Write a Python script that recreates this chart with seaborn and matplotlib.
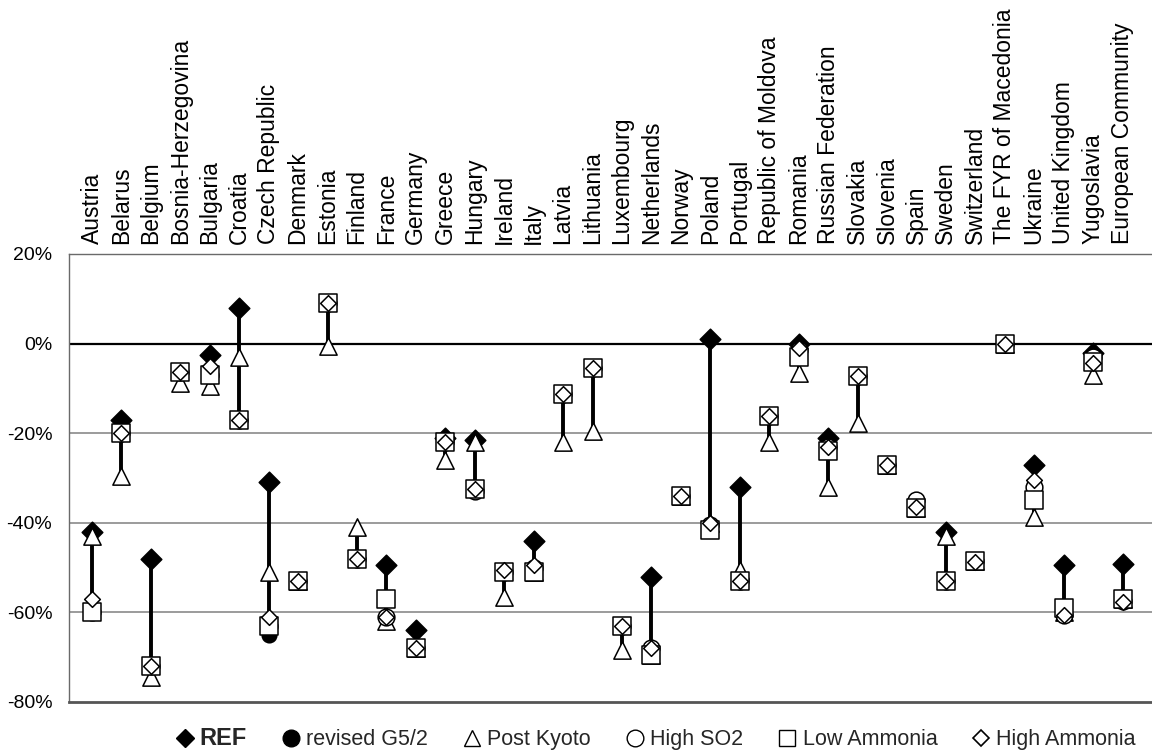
import numpy as np
import pandas as pd
import matplotlib
matplotlib.use("Agg")
import matplotlib.pyplot as plt
import seaborn as sns
from matplotlib.lines import Line2D
from matplotlib.ticker import FuncFormatter

# Change in emissions relative to the base year, per country and scenario (%)
countries = [
    "Austria", "Belarus", "Belgium", "Bosnia-Herzegovina", "Bulgaria", "Croatia",
    "Czech Republic", "Denmark", "Estonia", "Finland", "France", "Germany",
    "Greece", "Hungary", "Ireland", "Italy", "Latvia", "Lithuania",
    "Luxembourg", "Netherlands", "Norway", "Poland", "Portugal",
    "Republic of Moldova", "Romania", "Russian Federation", "Slovakia",
    "Slovenia", "Spain", "Sweden", "Switzerland", "The FYR of Macedonia",
    "Ukraine", "United Kingdom", "Yugoslavia", "European Community",
]
nan = np.nan
ref = [-42, -17, -48, nan, -2.5, 8, -31, nan, nan, nan, -49.5, -64,
       -21, -21.5, nan, -44, nan, nan, nan, -52, nan, 1, -32,
       nan, 0, -21, nan, nan, nan, -42, nan, nan,
       -27, -49.5, -2, -49.3]
revised_g52 = [-60, -20, -72, -6.3, -7, -17, -65, -53, 9, -48, -61, -68,
               -22, -33, -51, -51, -11.2, -5.4, -63, -69, -34, -41, -53,
               -16.2, -2, -23.5, -7.3, -27, -36.5, -53, -48.5, 0,
               -35, -60, -4, -57]
post_kyoto = [-43, -29.5, -74.5, -8.8, -9.5, -3, -51, -53, -0.5, -41, -62, -68,
              -26, -22, -56.5, -51, -22, -19.6, -68.3, -69.5, -34, -40, -50.5,
              -22, -6.5, -32, -17.7, -27, -36.6, -43, -48.5, 0,
              -38.6, -60, -7, -57]
high_so2 = [-60, -20, -72, -6.3, -7, -17, -63, -53, 9, -48, -61, -68,
            -22, -33, -51, -50, -11.2, -5.4, -63, -68, -34, -40.5, -53,
            -16.2, -1.5, -23, -7.3, -27, -35, -53, -48.5, 0,
            -32, -60.5, -3, -57.5]
low_ammonia = [-60, -20, -72, -6.3, -7, -17, -63, -53, 9, -48, -57, -68,
               -22, -32.5, -51, -51, -11.2, -5.4, -63, -69.5, -34, -41.5, -53,
               -16.2, -3, -24, -7.3, -27, -36.6, -53, -48.5, 0,
               -35, -59, -4, -57]
high_ammonia = [-57, -20, -72, -6.3, -5, -17, -61, -53, 9, -48, -61, -68,
                -22, -32.5, -50.5, -49.5, -11.2, -5.4, -63, -68, -34, -40, -53,
                -16.2, -1, -23, -7.3, -27, -36.4, -53, -48.7, 0,
                -30.5, -60.5, -4.3, -57.7]
y_ticks = [-80, -60, -40, -20, 0, 20]

scenario_names = ["REF", "revised G5/2", "Post Kyoto", "High SO2",
                  "Low Ammonia", "High Ammonia"]
df = pd.DataFrame({
    "country": countries,
    "REF": ref,
    "revised G5/2": revised_g52,
    "Post Kyoto": post_kyoto,
    "High SO2": high_so2,
    "Low Ammonia": low_ammonia,
    "High Ammonia": high_ammonia,
})
df["pos"] = np.arange(len(df))
long = df.melt(id_vars=["country", "pos"], value_vars=scenario_names,
               var_name="scenario", value_name="change").dropna()

# marker, area, face colour, edge colour
styles = {
    "REF":          ("D", 110, "black", "black"),
    "revised G5/2": ("o", 110, "black", "black"),
    "Post Kyoto":   ("^", 155, "white", "black"),
    "High SO2":     ("o", 145, "white", "black"),
    "Low Ammonia":  ("s", 155, "white", "black"),
    "High Ammonia": ("D", 64, "white", "black"),
}

sns.set_theme(style="white")
plt.rcParams["font.family"] = ["Liberation Sans", "DejaVu Sans"]

fig = plt.figure(figsize=(11.52, 7.54), dpi=100)
ax = fig.add_axes([69 / 1152, 52 / 754, (1152 - 69) / 1152, 448 / 754])

# horizontal reference lines
for yv in [-60, -40, -20]:
    ax.axhline(yv, color="#8a8a8a", lw=1.2, zorder=1)
ax.axhline(0, color="black", lw=1.6, zorder=1)

# range bar spanning all scenarios of each country
vals = df[scenario_names]
ax.vlines(df["pos"], vals.min(axis=1), vals.max(axis=1),
          color="black", lw=2.8, zorder=2)

for z, name in enumerate(scenario_names):
    mk, size, face, edge = styles[name]
    sns.scatterplot(data=long[long["scenario"] == name], x="pos", y="change",
                    marker=mk, s=size, color=face, edgecolor=edge,
                    linewidth=1.1, zorder=3 + z, legend=False, ax=ax)

ax.set_xlim(-0.78, 36.0)
ax.set_ylim(-80, 20)
ax.set_yticks(y_ticks)
ax.yaxis.set_major_formatter(FuncFormatter(lambda v, p: f"{v:.0f}%"))
ax.tick_params(axis="y", length=0, pad=12, labelsize=14, labelcolor="black")
ax.set_xticks(df["pos"])
ax.set_xticklabels(countries, rotation=90, fontsize=16.5, color="black")
ax.xaxis.tick_top()
ax.tick_params(axis="x", length=0, pad=7)
ax.set_xlabel("")
ax.set_ylabel("")

for side in ["top", "left"]:
    ax.spines[side].set_color("#6a6a6a")
    ax.spines[side].set_linewidth(1.0)
ax.spines["bottom"].set_color("#555555")
ax.spines["bottom"].set_linewidth(2.0)
ax.spines["right"].set_visible(False)

handles = [
    Line2D([], [], ls="none", marker="D", markersize=9.5, color="black"),
    Line2D([], [], ls="none", marker="o", markersize=12, color="black"),
    Line2D([], [], ls="none", marker="^", markersize=12, markerfacecolor="white",
           markeredgecolor="black", markeredgewidth=1.0),
    Line2D([], [], ls="none", marker="o", markersize=12, markerfacecolor="white",
           markeredgecolor="black", markeredgewidth=1.0),
    Line2D([], [], ls="none", marker="s", markersize=12, markerfacecolor="white",
           markeredgecolor="black", markeredgewidth=1.0),
    Line2D([], [], ls="none", marker="D", markersize=8.5, markerfacecolor="white",
           markeredgecolor="black", markeredgewidth=1.2),
]
leg = fig.legend(handles, scenario_names, loc="center",
                 bbox_to_anchor=(0.5695, 0.02), ncol=6, frameon=False,
                 fontsize=15.5, handlelength=0.8, handletextpad=0.3,
                 columnspacing=1.65)
leg.get_texts()[0].set_fontweight("bold")
leg.get_texts()[0].set_fontsize(17)

fig.savefig("out.png", dpi=100, facecolor="white")
